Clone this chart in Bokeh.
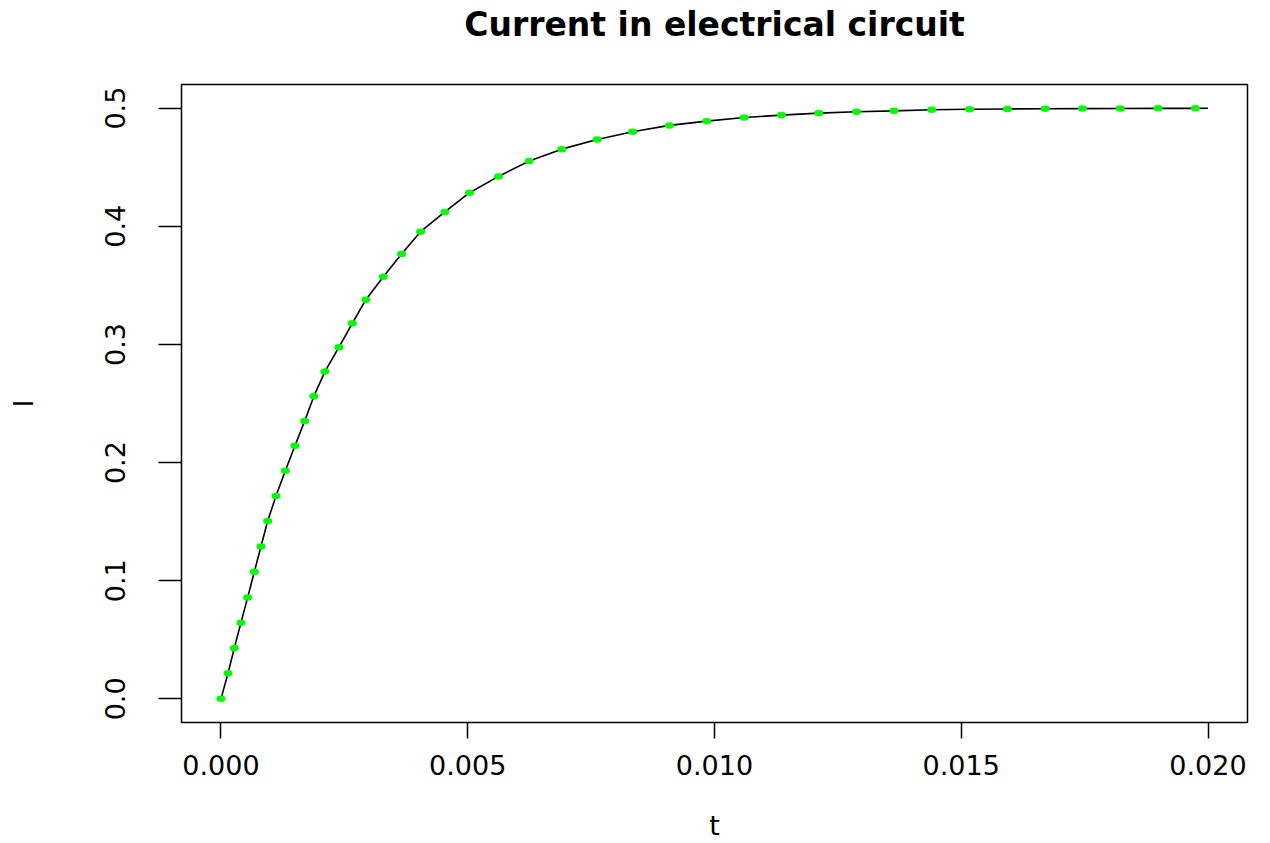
from bokeh.plotting import figure
from bokeh.models import Range1d, FixedTicker, Title
from bokeh.embed import file_html
from bokeh.resources import INLINE

# Data
t_pts = [0.0, 0.000142, 0.000271, 0.000405, 0.000541, 0.000676, 0.00081, 0.000946,
         0.001114, 0.001304, 0.001499, 0.001695, 0.001883, 0.002106, 0.00239, 0.002661,
         0.002936, 0.003289, 0.003659, 0.004044, 0.004536, 0.005036, 0.005623, 0.006245,
         0.006905, 0.007622, 0.008341, 0.009086, 0.009843, 0.010601, 0.011356, 0.012113,
         0.012879, 0.013636, 0.014402, 0.015167, 0.015935, 0.0167, 0.017457, 0.018222,
         0.018988, 0.019745]
I_pts = [0.0, 0.0216, 0.0431, 0.0645, 0.0859, 0.1076, 0.1290, 0.1505, 0.1717, 0.1931,
         0.2142, 0.2351, 0.2562, 0.2770, 0.2977, 0.3179, 0.3379, 0.3573, 0.3765, 0.3954,
         0.4121, 0.4284, 0.4422, 0.4552, 0.4653, 0.4735, 0.4800, 0.4854, 0.4890, 0.4921,
         0.4941, 0.4958, 0.4969, 0.4977, 0.4986, 0.4990, 0.4993, 0.4995, 0.4996, 0.4997,
         0.4998, 0.4998]
t_end = [0.02]
I_end = [0.4999]
t_line = t_pts + t_end
I_line = I_pts + I_end

x_ticks = [0.0, 0.005, 0.01, 0.015, 0.02]
x_tick_labels = ["0.000", "0.005", "0.010", "0.015", "0.020"]
y_ticks = [0.0, 0.1, 0.2, 0.3, 0.4, 0.5]
y_tick_labels = ["0.0", "0.1", "0.2", "0.3", "0.4", "0.5"]
title_text = "Current in electrical circuit"

FONT = "DejaVu Sans"

p = figure(output_backend="svg", toolbar_location=None,
           frame_width=1066, frame_height=638,
           x_range=Range1d(-0.0008, 0.0208), y_range=Range1d(-0.02, 0.52))
p.min_border_left = 181
p.min_border_right = 23
p.min_border_top = 84
p.min_border_bottom = 121
p.title.standoff = 0

# spacer between the frame and the title (closest to the frame)
spacer = Title(text=" ", text_font_size="10px", standoff=28)
p.add_layout(spacer, "above")
main_title = Title(text=title_text, text_font=FONT, text_font_size="33px",
                   text_font_style="bold", align="center", standoff=0,
                   text_color="black")
p.add_layout(main_title, "above")

p.xgrid.visible = False
p.ygrid.visible = False
p.outline_line_color = "black"
p.outline_line_width = 1.5
p.background_fill_color = "white"
p.border_fill_color = "white"

p.line(t_line, I_line, line_color="black", line_width=1.6)
p.ellipse(t_pts, I_pts, width=9, height=6.5, width_units="screen", height_units="screen",
          fill_color="#00ff00", line_color=None)

for ax, ticks, labels, tick_out in ((p.xaxis[0], x_ticks, x_tick_labels, 16),
                                     (p.yaxis[0], y_ticks, y_tick_labels, 23)):
    ax.ticker = FixedTicker(ticks=ticks)
    ax.major_label_overrides = {t: l for t, l in zip(ticks, labels)}
    ax.axis_line_color = None
    ax.major_tick_line_color = "black"
    ax.major_tick_line_width = 1.5
    ax.major_tick_out = tick_out
    ax.major_tick_in = 0
    ax.minor_tick_line_color = None
    ax.major_label_text_font = FONT
    ax.major_label_text_font_size = "27px"
    ax.major_label_text_color = "black"
    ax.axis_label_text_font = FONT
    ax.axis_label_text_font_size = "27px"
    ax.axis_label_text_font_style = "normal"
    ax.axis_label_text_color = "black"

p.xaxis.axis_label = "t"
p.yaxis.axis_label = "I"
p.xaxis.major_label_standoff = 16
p.xaxis.axis_label_standoff = 32
p.yaxis.major_label_orientation = "vertical"
p.yaxis.major_label_standoff = 33
p.yaxis.axis_label_standoff = 64

open("out.html", "w").write(file_html(p, INLINE))
